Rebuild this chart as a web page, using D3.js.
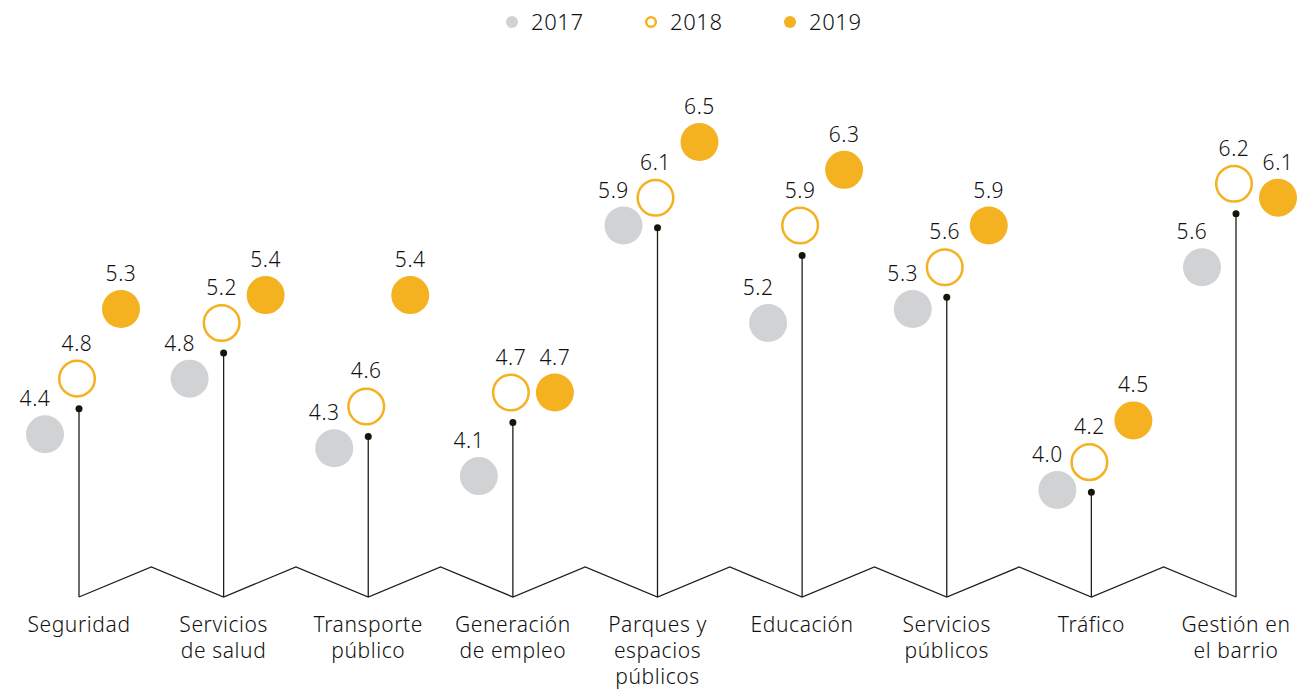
<!DOCTYPE html>
<head>
  <meta charset="utf-8">
  <script src="https://cdn.jsdelivr.net/npm/d3@7"></script>
  <style>
    body { margin: 0; background: #fff; font-family: 'Noto Sans', sans-serif; font-weight: 300; }
    svg { display: block; }
    text { fill: #111; letter-spacing: 0.6px; }
  </style>
</head>
<body>
<div id=chart></div>
<script>
// data
const categories = [
  ['Seguridad'],
  ['Servicios', 'de salud'],
  ['Transporte', 'público'],
  ['Generación', 'de empleo'],
  ['Parques y', 'espacios', 'públicos'],
  ['Educación'],
  ['Servicios', 'públicos'],
  ['Tráfico'],
  ['Gestión en', 'el barrio'],
]
const years = ['2017', '2018', '2019']
const v2017 = [4.4, 4.8, 4.3, 4.1, 5.9, 5.2, 5.3, 4.0, 5.6]
const v2018 = [4.8, 5.2, 4.6, 4.7, 6.1, 5.9, 5.6, 4.2, 6.2]
const v2019 = [5.3, 5.4, 5.4, 4.7, 6.5, 6.3, 5.9, 4.5, 6.1]

const width = 1304, height = 690
const grey = '#d1d2d4', orange = '#f4b120'
const r = 19

const svg = d3.select('#chart').append('svg')
  .attr('width', width).attr('height', height)
  .attr('viewBox', [0, 0, width, height])

const idx = d3.range(categories.length)
const x = d3.scalePoint().domain(idx).range([79, 1236])
const y = d3.scaleLinear().domain([4, 6.5]).range([490, 142])
const dodge = d3.scaleOrdinal().domain(years).range([-34, -2, 42])

const base_y = 597, peak_y = 567

// zigzag base line
const zig = []
idx.forEach(i => {
  zig.push([x(i), base_y])
  if (i < idx.length - 1) zig.push([(x(i) + x(i + 1)) / 2, peak_y])
})
svg.append('path')
  .attr('d', d3.line()(zig))
  .attr('fill', 'none').attr('stroke', '#1d1d1b').attr('stroke-width', 1.3)

// stems
const stems = svg.append('g')
stems.selectAll('line').data(idx).join('line')
  .attr('x1', i => x(i)).attr('x2', i => x(i))
  .attr('y1', i => y(v2018[i]) + 30).attr('y2', base_y)
  .attr('stroke', '#1d1d1b').attr('stroke-width', 1.3)
stems.selectAll('circle').data(idx).join('circle')
  .attr('cx', i => x(i)).attr('cy', i => y(v2018[i]) + 30)
  .attr('r', 3.5).attr('fill', '#15150a')

// points
const points = []
idx.forEach(i => {
  [[years[0], v2017[i]], [years[1], v2018[i]], [years[2], v2019[i]]].forEach(([yr, v]) => {
    points.push({ i, year: yr, value: v, cx: x(i) + dodge(yr), cy: y(v) })
  })
})

const g = svg.append('g')
g.selectAll('circle').data(points).join('circle')
  .attr('cx', d => d.cx).attr('cy', d => d.cy)
  .attr('r', d => d.year === '2018' ? r - 1.2 : r)
  .attr('fill', d => d.year === '2017' ? grey : d.year === '2019' ? orange : '#fff')
  .attr('stroke', d => d.year === '2018' ? orange : 'none')
  .attr('stroke-width', 2.5)

// value labels above each circle, 2017 ones nudged left
points.forEach(d => {
  d.lx = d.cx + (d.year === '2017' ? -10 : 0)
  d.ly = d.cy - r - 9
})
g.selectAll('text').data(points).join('text')
  .attr('x', d => d.lx).attr('y', d => d.ly)
  .attr('text-anchor', 'middle')
  .attr('font-size', 21)
  .text(d => d.value.toFixed(1))

// category labels, one text per line
svg.append('g').selectAll('g').data(idx).join('g')
  .attr('transform', i => `translate(${x(i)},632)`)
  .selectAll('text').data(i => categories[i]).join('text')
    .attr('text-anchor', 'middle')
    .attr('font-size', 21)
    .attr('y', (d, k) => k * 26)
    .text(d => d)

// legend
const lx = d3.scalePoint().domain(years).range([512, 790])
const legend = svg.append('g').selectAll('g').data(years).join('g')
  .attr('transform', d => `translate(${lx(d)},22)`)
legend.append('circle')
  .attr('r', d => d === '2018' ? 4.8 : 6)
  .attr('fill', d => d === '2017' ? grey : d === '2019' ? orange : '#fff')
  .attr('stroke', d => d === '2018' ? orange : 'none')
  .attr('stroke-width', 2.5)
legend.append('text')
  .attr('x', 19).attr('y', 8)
  .attr('font-size', 22)
  .text(d => d)
</script>
</body>
